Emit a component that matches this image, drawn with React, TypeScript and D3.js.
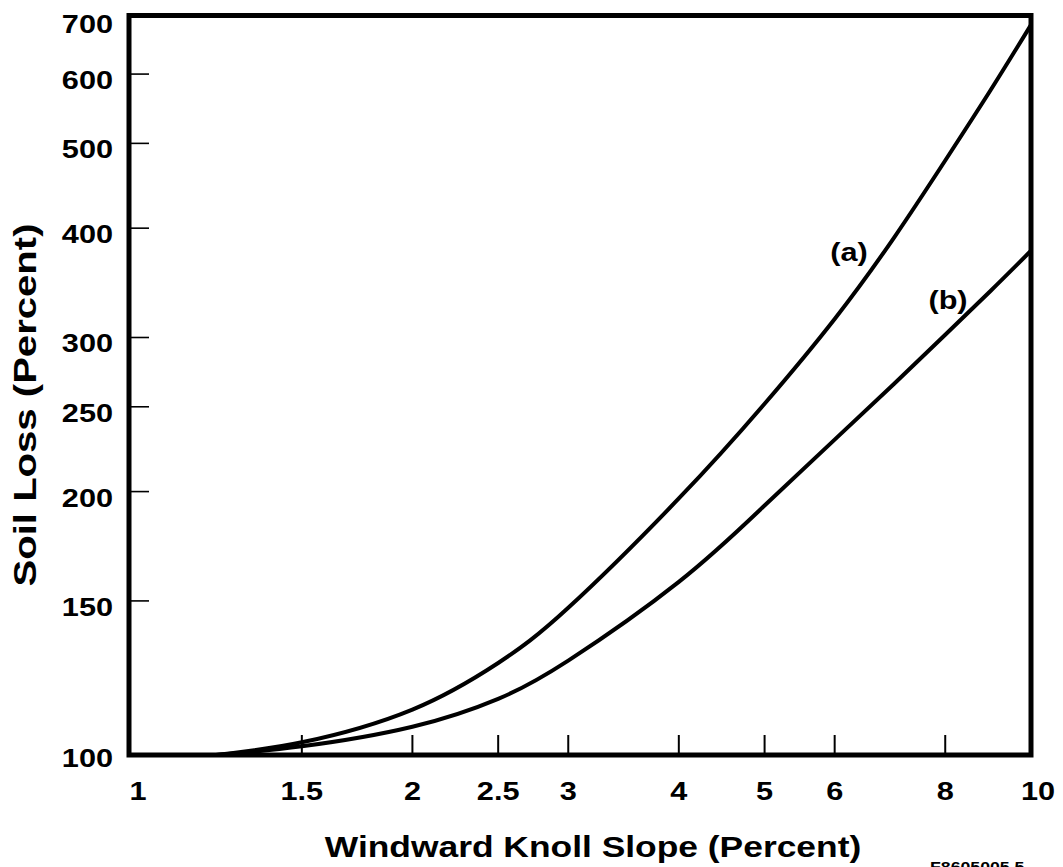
import React from "react";
import * as d3 from "d3";

const slopeX = [1.2, 1.5, 2, 2.5, 3, 4, 5, 6, 7, 8, 9, 10];
const lossA = [100, 103.4, 112.7, 127.4, 147.3, 196.4, 252, 315, 390, 478, 575, 683];
const lossB = [100, 102.3, 107.7, 115.9, 128.2, 157.7, 192.8, 229.3, 265.4, 302.2, 339.1, 376.9];
const xTicks = [1.5, 2, 2.5, 3, 4, 5, 6, 8];
const xTickLabels = [1, 1.5, 2, 2.5, 3, 4, 5, 6, 8, 10];
const yTicks = [150, 200, 250, 300, 400, 500, 600];
const yTickLabels = [100, 150, 200, 250, 300, 400, 500, 600, 700];

const W = 1063;
const H = 867;
const FONT = "'Liberation Sans', Arial, Helvetica, sans-serif";
const SX = 1.18;

export default function App() {
  const left = 129, right = 1031, top = 15.5, bottom = 755;
  const x = d3.scaleLog().domain([1, 10]).range([146, right]);
  const y = d3.scaleLog().domain([100, 700]).range([bottom, top]);
  const line = d3
    .line<[number, number]>()
    .x((d) => x(d[0]))
    .y((d) => y(d[1]))
    .curve(d3.curveNatural);
  const ptsA = slopeX.map((v, i) => [v, lossA[i]] as [number, number]);
  const ptsB = slopeX.map((v, i) => [v, lossB[i]] as [number, number]);

  const xLabelShift = (v: number) => (v === 1 ? -8 : v === 10 ? 7 : 0);
  const yLabelBase = (v: number) => (v === 700 ? 17 : v === 100 ? 12 : 15);

  return (
    <svg
      width={W}
      height={H}
      style={{ position: "absolute", left: 0, top: 0, background: "#fff" }}
      fontFamily={FONT}
      fontWeight="bold"
    >
      <rect x={0} y={0} width={W} height={H} fill="#fff" />
      <defs>
        <clipPath id="plotclip">
          <rect x={left} y={top} width={right - left} height={bottom - top} />
        </clipPath>
      </defs>
      {/* curves */}
      <g clipPath="url(#plotclip)">
        <path d={line(ptsA) || ""} fill="none" stroke="#000" strokeWidth={4} />
        <path d={line(ptsB) || ""} fill="none" stroke="#000" strokeWidth={4} />
      </g>
      {/* ticks */}
      {xTicks.map((t) => (
        <line key={"xt" + t} x1={x(t)} x2={x(t)} y1={bottom} y2={bottom - 20} stroke="#000" strokeWidth={2} />
      ))}
      {yTicks.map((t) => (
        <line key={"yt" + t} x1={left} x2={left + 20} y1={y(t)} y2={y(t)} stroke="#000" strokeWidth={1.6} />
      ))}
      {/* frame */}
      <rect x={left} y={top} width={right - left} height={bottom - top} fill="none" stroke="#000" strokeWidth={5} />
      {/* x tick labels */}
      {xTickLabels.map((t) => (
        <text
          key={"xl" + t}
          transform={`translate(${x(t) + xLabelShift(t)},800) scale(${SX},1)`}
          textAnchor="middle"
          fontSize={26}
          fill="#000"
        >
          {t}
        </text>
      ))}
      {/* y tick labels */}
      {yTickLabels.map((t) => (
        <text
          key={"yl" + t}
          transform={`translate(113,${y(t) + yLabelBase(t)}) scale(${SX},1)`}
          textAnchor="end"
          fontSize={26}
          fill="#000"
        >
          {t}
        </text>
      ))}
      {/* axis titles */}
      <text transform={`translate(593,857) scale(${SX},1)`} textAnchor="middle" fontSize={30} fill="#000">
        Windward Knoll Slope (Percent)
      </text>
      <text
        transform={`translate(36,405) scale(${SX},1) rotate(-90)`}
        textAnchor="middle"
        fontSize={27}
        fill="#000"
        textLength={363}
        lengthAdjust="spacingAndGlyphs"
      >
        Soil Loss (Percent)
      </text>
      {/* curve labels */}
      <text transform={`translate(849,261) scale(${SX},1)`} textAnchor="middle" fontSize={26} fill="#000">
        (a)
      </text>
      <text transform={`translate(948,309) scale(${SX},1)`} textAnchor="middle" fontSize={26} fill="#000">
        (b)
      </text>
      {/* figure code, cut at the bottom edge as in the source */}
      <text transform={`translate(930,872) scale(${SX},1)`} textAnchor="start" fontSize={15} fill="#000">
        F8605005.5
      </text>
    </svg>
  );
}
